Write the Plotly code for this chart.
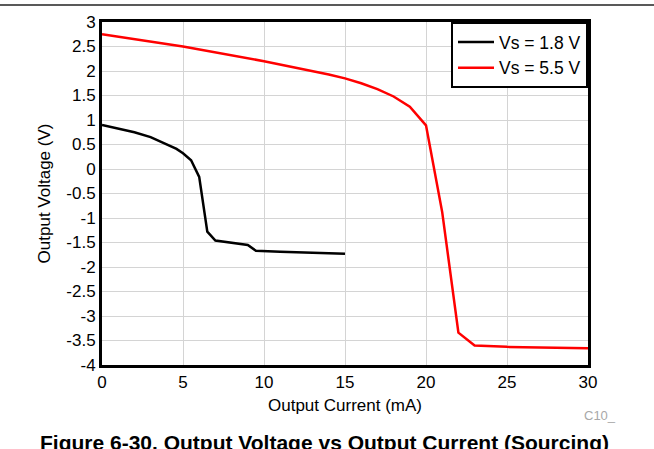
import plotly.graph_objects as go

# Output current (mA) and output voltage (V) for each supply
current_18 = [0, 1, 2, 3, 4, 4.6, 5, 5.5, 6, 6.5, 7, 8, 9, 9.5, 10, 11, 12, 13, 14, 15]
voltage_18 = [0.9, 0.83, 0.75, 0.65, 0.51, 0.41, 0.32, 0.18, -0.16, -1.28, -1.46, -1.51, -1.55, -1.67, -1.68, -1.69, -1.70, -1.71, -1.72, -1.73]

current_55 = [0, 5, 10, 12, 14, 15, 16, 17, 18, 19, 20, 21, 22, 23, 24, 25, 30]
voltage_55 = [2.75, 2.5, 2.2, 2.07, 1.93, 1.85, 1.75, 1.63, 1.48, 1.27, 0.89, -0.88, -3.34, -3.6, -3.62, -3.63, -3.66]

x_ticks = [0, 5, 10, 15, 20, 25, 30]
y_ticks = [3, 2.5, 2, 1.5, 1, 0.5, 0, -0.5, -1, -1.5, -2, -2.5, -3, -3.5, -4]
y_tick_text = ["3", "2.5", "2", "1.5", "1", "0.5", "0", "-0.5", "-1", "-1.5", "-2", "-2.5", "-3", "-3.5", "-4"]

FONT = "Liberation Sans, Arial, Helvetica, sans-serif"
PW, PH = 486, 343  # plot area size in px

fig = go.Figure()
fig.add_trace(go.Scatter(x=current_18, y=voltage_18, mode="lines", name="Vs = 1.8 V",
                         line=dict(color="#000000", width=2.5)))
fig.add_trace(go.Scatter(x=current_55, y=voltage_55, mode="lines", name="Vs = 5.5 V",
                         line=dict(color="#ff0000", width=2.5)))

fig.update_layout(
    width=654, height=449,
    margin=dict(l=102, r=66, t=22, b=84),
    paper_bgcolor="white", plot_bgcolor="white",
    font=dict(family=FONT, size=17, color="#000000"),
    showlegend=True,
    legend=dict(x=1, y=1, xanchor="right", yanchor="top",
                bgcolor="white", bordercolor="#000000", borderwidth=2,
                font=dict(size=17.5), itemwidth=36, tracegroupgap=0),
    xaxis=dict(range=[0, 30], tickvals=x_ticks, showgrid=True, gridcolor="#d4d4d4", gridwidth=1,
               showline=True, linecolor="#000000", linewidth=3, mirror=True,
               ticks="", zeroline=False, fixedrange=True,
               title=dict(text="Output Current (mA)", standoff=8, font=dict(size=17))),
    yaxis=dict(range=[-4, 3], tickvals=y_ticks, ticktext=y_tick_text, showgrid=True,
               gridcolor="#d4d4d4", gridwidth=1,
               showline=True, linecolor="#000000", linewidth=3, mirror=True,
               ticks="", zeroline=False, fixedrange=True,
               title=dict(text="Output Voltage (V)", standoff=12, font=dict(size=17))),
    shapes=[dict(type="line", xref="paper", yref="paper", x0=-102/PW, x1=(654-102)/PW,
                 y0=1 + 17/PH, y1=1 + 17/PH, line=dict(color="#222222", width=1.5))],
    annotations=[
        dict(text="C10_", xref="paper", yref="paper", x=(600-102)/PW, y=-(415-365)/PH,
             xanchor="center", yanchor="middle", showarrow=False,
             font=dict(size=13, color="#a8a8a8")),
        dict(text="<b>Figure 6-30. Output Voltage vs Output Current (Sourcing)</b>",
             xref="paper", yref="paper", x=(324-102)/PW, y=-(443-365)/PH,
             xanchor="center", yanchor="middle", showarrow=False,
             font=dict(size=21, color="#000000")),
    ],
)

fig.write_html("out.html")
